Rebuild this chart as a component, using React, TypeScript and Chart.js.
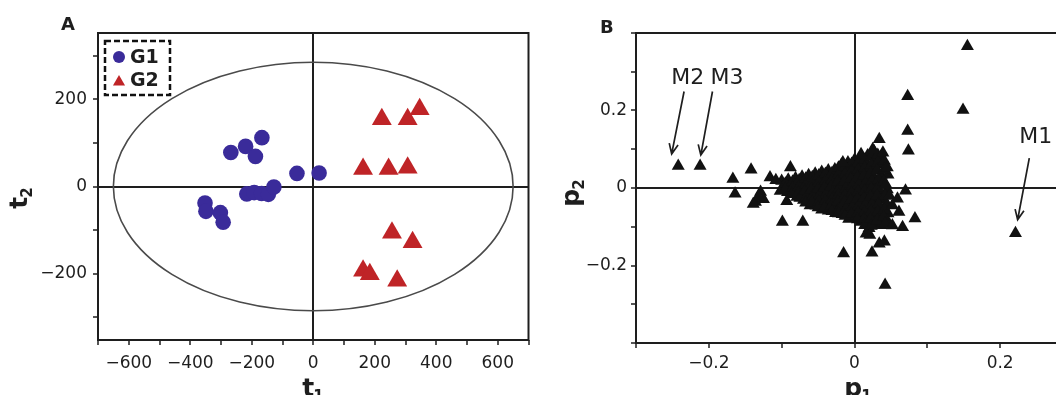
import React, { useEffect, useRef } from 'react';
import { Chart, registerables } from 'chart.js';

Chart.register(...registerables);

type Pt = [number, number];

// ---------------- Panel A : scores (t1 / t2) ----------------
const G1_LABEL = 'G1';
const G2_LABEL = 'G2';
const G1_SCORES: Pt[] = [
  [-268, 78], [-220, 92], [-188, 69], [-167, 112],
  [-53, 30], [19, 31],
  [-216, -17], [-192, -14], [-168, -16], [-146, -18], [-128, -1],
  [-352, -38], [-349, -57], [-302, -60], [-293, -82],
];
const G2_SCORES: Pt[] = [
  [223, 154], [307, 154], [346, 177],
  [162, 40], [245, 40], [307, 43],
  [256, -106], [323, -128],
  [162, -193], [184, -201], [273, -216],
];
const A_X_LIMITS: Pt = [-700, 700];
const A_Y_LIMITS: Pt = [-352, 352];
const A_X_TICKS = [-700, -600, -500, -400, -300, -200, -100, 0, 100, 200, 300, 400, 500, 600, 700];
const A_Y_TICKS = [-300, -200, -100, 0, 100, 200, 300];
const A_X_LABELED = [-600, -400, -200, 0, 200, 400, 600];
const A_Y_LABELED = [-200, 0, 200];
const HOTELLING_SEMI_AXES: Pt = [650, 285];

// ---------------- Panel B : loadings (p1 / p2) ----------------
const LOADINGS_OUTLIERS: Pt[] = [
  [0.155, 0.366], [0.149, 0.201], [0.073, 0.237], [0.073, 0.147], [0.074, 0.096],
  [0.221, -0.117],
  [-0.242, 0.057], [-0.212, 0.057],
  [-0.167, 0.023], [-0.164, -0.015], [-0.142, 0.047],
  [-0.136, -0.036], [-0.129, -0.010], [-0.125, -0.029], [-0.132, -0.023], [-0.139, -0.041],
  [-0.116, 0.027], [-0.108, 0.020],
  [-0.099, -0.088], [-0.071, -0.088], [-0.088, 0.053], [-0.093, -0.034],
  [-0.015, -0.169], [0.024, -0.167], [0.034, -0.144], [0.041, -0.139], [0.042, -0.250],
  [0.016, -0.118], [0.021, -0.121],
  [0.034, 0.126], [0.025, 0.100], [0.039, 0.091], [0.009, 0.087], [-0.016, 0.066],
  [0.045, 0.053], [0.043, 0.010], [0.048, -0.020], [0.052, -0.045], [0.059, -0.028],
  [0.070, -0.007], [0.061, -0.062], [0.052, -0.097], [0.066, -0.101], [0.083, -0.079],
];
const LOADINGS_CLUSTER: Pt[] = [
  [-0.100, 0.018], [-0.098, 0.003], [-0.102, -0.008],
  [-0.091, 0.021], [-0.089, 0.006], [-0.092, -0.011],
  [-0.081, 0.025], [-0.080, 0.009], [-0.082, -0.009], [-0.079, -0.023],
  [-0.072, 0.029], [-0.073, 0.013], [-0.071, -0.004], [-0.072, -0.019], [-0.070, -0.031],
  [-0.063, 0.033], [-0.062, 0.017], [-0.064, 0.001], [-0.062, -0.016], [-0.063, -0.033], [-0.061, -0.045],
  [-0.054, 0.037], [-0.055, 0.021], [-0.053, 0.004], [-0.054, -0.012], [-0.055, -0.029], [-0.053, -0.046],
  [-0.045, 0.041], [-0.044, 0.024], [-0.046, 0.007], [-0.045, -0.010], [-0.044, -0.027], [-0.046, -0.043], [-0.045, -0.056],
  [-0.036, 0.045], [-0.037, 0.027], [-0.035, 0.010], [-0.036, -0.008], [-0.037, -0.025], [-0.035, -0.041], [-0.036, -0.059],
  [-0.027, 0.048], [-0.026, 0.031], [-0.028, 0.013], [-0.027, -0.004], [-0.026, -0.021], [-0.028, -0.038], [-0.027, -0.054], [-0.026, -0.065],
  [-0.018, 0.060], [-0.017, 0.041], [-0.019, 0.023], [-0.018, 0.005], [-0.017, -0.014], [-0.019, -0.032], [-0.018, -0.050], [-0.017, -0.068],
  [-0.009, 0.066], [-0.010, 0.047], [-0.008, 0.027], [-0.009, 0.009], [-0.010, -0.010], [-0.008, -0.028], [-0.009, -0.046], [-0.010, -0.064], [-0.008, -0.080],
  [0.000, 0.072], [0.001, 0.053], [-0.001, 0.033], [0.000, 0.015], [0.001, -0.004], [-0.001, -0.022], [0.000, -0.040], [0.001, -0.058], [-0.001, -0.076],
  [0.009, 0.078], [0.010, 0.058], [0.008, 0.038], [0.009, 0.019], [0.010, 0.000], [0.008, -0.018], [0.009, -0.036], [0.010, -0.054], [0.008, -0.072], [0.009, -0.088],
  [0.018, 0.084], [0.017, 0.064], [0.019, 0.044], [0.018, 0.023], [0.017, 0.004], [0.019, -0.016], [0.018, -0.034], [0.017, -0.052], [0.019, -0.070], [0.018, -0.090], [0.020, -0.104],
  [0.027, 0.094], [0.028, 0.072], [0.026, 0.050], [0.027, 0.028], [0.028, 0.008], [0.026, -0.012], [0.027, -0.032], [0.028, -0.050], [0.026, -0.070], [0.027, -0.092],
  [0.036, 0.080], [0.035, 0.060], [0.037, 0.034], [0.036, 0.012], [0.035, -0.010], [0.037, -0.030], [0.036, -0.052], [0.035, -0.074], [0.037, -0.096],
  [0.046, 0.034], [0.045, -0.004], [0.044, -0.040], [0.046, -0.066], [0.045, -0.084],
];
const LOADINGS_CLUSTER_FILL: Pt[] = [
  [-0.095, 0.011], [-0.095, -0.003],
  [-0.085, 0.016], [-0.085, 0.000], [-0.086, -0.016],
  [-0.076, 0.020], [-0.076, 0.004], [-0.077, -0.012], [-0.075, -0.026],
  [-0.067, 0.024], [-0.067, 0.008], [-0.068, -0.008], [-0.066, -0.024], [-0.067, -0.038],
  [-0.058, 0.028], [-0.058, 0.012], [-0.059, -0.004], [-0.057, -0.020], [-0.058, -0.037],
  [-0.049, 0.032], [-0.049, 0.015], [-0.050, -0.002], [-0.048, -0.018], [-0.049, -0.035], [-0.050, -0.050],
  [-0.040, 0.036], [-0.040, 0.018], [-0.041, 0.001], [-0.039, -0.016], [-0.040, -0.033], [-0.041, -0.050],
  [-0.031, 0.038], [-0.031, 0.021], [-0.032, 0.004], [-0.030, -0.013], [-0.031, -0.030], [-0.032, -0.046], [-0.031, -0.060],
  [-0.022, 0.052], [-0.022, 0.035], [-0.023, 0.017], [-0.021, -0.001], [-0.022, -0.018], [-0.023, -0.036], [-0.021, -0.053], [-0.022, -0.066],
  [-0.013, 0.055], [-0.013, 0.036], [-0.014, 0.017], [-0.012, -0.001], [-0.013, -0.019], [-0.014, -0.037], [-0.012, -0.055], [-0.013, -0.072],
  [-0.004, 0.062], [-0.004, 0.043], [-0.005, 0.024], [-0.003, 0.006], [-0.004, -0.013], [-0.005, -0.031], [-0.003, -0.049], [-0.004, -0.067],
  [0.005, 0.066], [0.005, 0.047], [0.004, 0.028], [0.006, 0.009], [0.005, -0.009], [0.004, -0.027], [0.006, -0.045], [0.005, -0.063], [0.004, -0.081],
  [0.014, 0.072], [0.014, 0.052], [0.013, 0.032], [0.015, 0.012], [0.014, -0.007], [0.013, -0.026], [0.015, -0.044], [0.014, -0.062], [0.013, -0.080], [0.014, -0.096],
  [0.023, 0.080], [0.023, 0.060], [0.022, 0.038], [0.024, 0.018], [0.023, -0.002], [0.022, -0.022], [0.024, -0.042], [0.023, -0.060], [0.022, -0.080], [0.023, -0.098],
  [0.032, 0.085], [0.032, 0.066], [0.031, 0.046], [0.033, 0.022], [0.032, 0.000], [0.031, -0.020], [0.033, -0.041], [0.032, -0.062], [0.031, -0.084],
  [0.041, 0.070], [0.041, 0.048], [0.040, 0.016], [0.042, -0.020], [0.041, -0.056], [0.040, -0.075], [0.042, -0.092],
];
const B_X_LIMITS: Pt = [-0.3, 0.3];
const B_Y_LIMITS: Pt = [-0.4, 0.4];
const B_X_TICKS = [-0.3, -0.2, -0.1, 0, 0.1, 0.2, 0.3];
const B_Y_TICKS = [-0.4, -0.3, -0.2, -0.1, 0, 0.1, 0.2, 0.3, 0.4];
const B_X_LABELED = [-0.2, 0, 0.2];
const B_Y_LABELED = [-0.2, 0, 0.2];
const MARKERS = [
  { text: 'M2', at: [-0.229, 0.284] as Pt, from: [-0.234, 0.249] as Pt, to: [-0.251, 0.088] as Pt },
  { text: 'M3', at: [-0.175, 0.284] as Pt, from: [-0.195, 0.249] as Pt, to: [-0.211, 0.085] as Pt },
  { text: 'M1', at: [0.249, 0.130] as Pt, from: [0.240, 0.077] as Pt, to: [0.224, -0.082] as Pt },
];

// ---------------- styling ----------------
const INK = '#1e1e1e';
const FONT = '"DejaVu Sans", "Liberation Sans", sans-serif';
const G1_COLOR = '#3a2b9a';
const G2_COLOR = '#bf2427';
const LOAD_COLOR = '#111111';

const toXY = (pts: Pt[]) => pts.map(([x, y]) => ({ x, y }));
const near = (list: number[], v: number) => list.some((l) => Math.abs(l - v) < 1e-9);
const fmt = (v: number, dec: number) =>
  Math.abs(v) < 1e-9 ? '0' : (v < 0 ? '\u2212' : '') + Math.abs(v).toFixed(dec);

function axis(
  limits: Pt,
  ticks: number[],
  labeled: number[],
  dec: number,
  size: { width?: number; height?: number },
  pad: number
): any {
  return {
    type: 'linear',
    min: limits[0],
    max: limits[1],
    afterBuildTicks: (s: any) => {
      s.ticks = ticks.map((v) => ({ value: v }));
    },
    afterFit: (s: any) => {
      if (size.width !== undefined) s.width = size.width;
      if (size.height !== undefined) s.height = size.height;
    },
    border: { display: false },
    grid: {
      color: (c: any) => (c.tick && Math.abs(c.tick.value) < 1e-9 ? INK : 'rgba(0,0,0,0)'),
      lineWidth: 2,
      drawTicks: true,
      tickLength: 5,
      tickColor: INK,
      tickWidth: 1.5,
    },
    ticks: {
      autoSkip: false,
      maxRotation: 0,
      padding: pad,
      color: INK,
      font: { family: FONT, size: 17 },
      callback: (v: any) => (near(labeled, Number(v)) ? fmt(Number(v), dec) : ''),
    },
  };
}

function drawTri(ctx: CanvasRenderingContext2D, x: number, y: number, r: number) {
  ctx.beginPath();
  for (let i = 0; i < 3; i++) {
    const a = -Math.PI / 2 + (i * 2 * Math.PI) / 3;
    const px = x + Math.cos(a) * r;
    const py = y + Math.sin(a) * r;
    if (i === 0) ctx.moveTo(px, py);
    else ctx.lineTo(px, py);
  }
  ctx.closePath();
  ctx.fill();
}

function drawSubTitle(
  ctx: CanvasRenderingContext2D,
  main: string,
  sub: string,
  x: number,
  y: number,
  rotate: boolean
) {
  ctx.save();
  ctx.translate(x, y);
  if (rotate) ctx.rotate(-Math.PI / 2);
  const mainFont = `bold 25px ${FONT}`;
  const subFont = `bold 15px ${FONT}`;
  ctx.font = mainFont;
  const wm = ctx.measureText(main).width;
  ctx.font = subFont;
  const ws = ctx.measureText(sub).width;
  const start = -(wm + ws - 1) / 2;
  ctx.fillStyle = INK;
  ctx.textAlign = 'left';
  ctx.textBaseline = 'alphabetic';
  ctx.font = mainFont;
  ctx.fillText(main, start, 0);
  ctx.font = subFont;
  ctx.fillText(sub, start + wm - 1, 5);
  ctx.restore();
}

function drawFrame(chart: any) {
  const { ctx, chartArea: a } = chart;
  ctx.save();
  ctx.strokeStyle = INK;
  ctx.lineWidth = 2;
  ctx.strokeRect(a.left, a.top, a.right - a.left, a.bottom - a.top);
  ctx.restore();
}

function drawPanelLetter(chart: any, letter: string, dx: number, dy: number) {
  const { ctx, chartArea: a } = chart;
  ctx.save();
  ctx.fillStyle = INK;
  ctx.font = `bold 18px ${FONT}`;
  ctx.textAlign = 'left';
  ctx.textBaseline = 'alphabetic';
  ctx.fillText(letter, a.left + dx, a.top + dy);
  ctx.restore();
}

const decorA = {
  id: 'decorA',
  beforeDatasetsDraw(chart: any) {
    const { ctx, scales } = chart;
    const xs = scales.x;
    const ys = scales.y;
    const cx = xs.getPixelForValue(0);
    const cy = ys.getPixelForValue(0);
    const rx = xs.getPixelForValue(HOTELLING_SEMI_AXES[0]) - cx;
    const ry = cy - ys.getPixelForValue(HOTELLING_SEMI_AXES[1]);
    ctx.save();
    ctx.strokeStyle = '#4a4a4a';
    ctx.lineWidth = 1.6;
    ctx.beginPath();
    ctx.ellipse(cx, cy, rx, ry, 0, 0, Math.PI * 2);
    ctx.stroke();
    ctx.restore();
  },
  afterDraw(chart: any) {
    const { ctx, chartArea: a } = chart;
    drawFrame(chart);
    const lx = a.left + 7;
    const ly = a.top + 8;
    ctx.save();
    ctx.setLineDash([6, 3]);
    ctx.lineWidth = 2.5;
    ctx.strokeStyle = '#111';
    ctx.strokeRect(lx, ly, 65, 54);
    ctx.setLineDash([]);
    const ds = chart.data.datasets;
    ctx.font = `bold 19px ${FONT}`;
    ctx.textAlign = 'left';
    ctx.textBaseline = 'middle';
    ctx.fillStyle = ds[0].backgroundColor;
    ctx.beginPath();
    ctx.arc(lx + 14, ly + 16, 6, 0, Math.PI * 2);
    ctx.fill();
    ctx.fillStyle = INK;
    ctx.fillText(ds[0].label, lx + 25, ly + 17);
    ctx.fillStyle = ds[1].backgroundColor;
    drawTri(ctx, lx + 14, ly + 41, 7);
    ctx.fillStyle = INK;
    ctx.fillText(ds[1].label, lx + 25, ly + 40);
    ctx.restore();
    drawPanelLetter(chart, 'A', -37, -3);
    drawSubTitle(ctx, 't', '1', a.left + 215, a.bottom + 56, false);
    drawSubTitle(ctx, 't', '2', a.left - 71, a.top + 165, true);
  },
};

const decorB = {
  id: 'decorB',
  afterDraw(chart: any) {
    const { ctx, chartArea: a, scales } = chart;
    drawFrame(chart);
    const xs = scales.x;
    const ys = scales.y;
    ctx.save();
    ctx.strokeStyle = INK;
    ctx.fillStyle = INK;
    ctx.lineWidth = 1.7;
    ctx.font = `22px ${FONT}`;
    ctx.textAlign = 'center';
    ctx.textBaseline = 'middle';
    for (const m of MARKERS) {
      ctx.fillText(m.text, xs.getPixelForValue(m.at[0]), ys.getPixelForValue(m.at[1]));
      const x1 = xs.getPixelForValue(m.from[0]);
      const y1 = ys.getPixelForValue(m.from[1]);
      const x2 = xs.getPixelForValue(m.to[0]);
      const y2 = ys.getPixelForValue(m.to[1]);
      ctx.beginPath();
      ctx.moveTo(x1, y1);
      ctx.lineTo(x2, y2);
      const ang = Math.atan2(y2 - y1, x2 - x1);
      const hl = 11;
      ctx.moveTo(x2 - hl * Math.cos(ang - 0.42), y2 - hl * Math.sin(ang - 0.42));
      ctx.lineTo(x2, y2);
      ctx.lineTo(x2 - hl * Math.cos(ang + 0.42), y2 - hl * Math.sin(ang + 0.42));
      ctx.stroke();
    }
    ctx.restore();
    drawPanelLetter(chart, 'B', -36, 0);
    drawSubTitle(ctx, 'p', '1', a.left + 222, a.bottom + 53, false);
    drawSubTitle(ctx, 'p', '2', a.left - 57, a.top + 160, true);
  },
};

function configA(): any {
  return {
    type: 'scatter',
    data: {
      datasets: [
        {
          label: G1_LABEL,
          data: toXY(G1_SCORES),
          pointStyle: 'circle',
          pointRadius: 7.8,
          backgroundColor: G1_COLOR,
          borderColor: G1_COLOR,
          borderWidth: 0,
        },
        {
          label: G2_LABEL,
          data: toXY(G2_SCORES),
          pointStyle: 'triangle',
          pointRadius: 11.5,
          backgroundColor: G2_COLOR,
          borderColor: G2_COLOR,
          borderWidth: 0,
        },
      ],
    },
    options: {
      responsive: false,
      animation: false,
      devicePixelRatio: 1,
      events: [],
      layout: { padding: { left: 0, right: 8, top: 33, bottom: 0 } },
      plugins: { legend: { display: false }, tooltip: { enabled: false }, title: { display: false } },
      scales: {
        x: axis(A_X_LIMITS, A_X_TICKS, A_X_LABELED, 0, { height: 63 }, 8),
        y: axis(A_Y_LIMITS, A_Y_TICKS, A_Y_LABELED, 0, { width: 98 }, 6),
      },
    },
    plugins: [decorA],
  };
}

function configB(): any {
  return {
    type: 'scatter',
    data: {
      datasets: [
        {
          label: 'Loadings',
          data: toXY([...LOADINGS_CLUSTER, ...LOADINGS_CLUSTER_FILL, ...LOADINGS_OUTLIERS]),
          pointStyle: 'triangle',
          pointRadius: 7.5,
          backgroundColor: LOAD_COLOR,
          borderColor: LOAD_COLOR,
          borderWidth: 0,
        },
      ],
    },
    options: {
      responsive: false,
      animation: false,
      devicePixelRatio: 1,
      events: [],
      layout: { padding: { left: 0, right: 27, top: 33, bottom: 0 } },
      plugins: { legend: { display: false }, tooltip: { enabled: false }, title: { display: false } },
      scales: {
        x: axis(B_X_LIMITS, B_X_TICKS, B_X_LABELED, 1, { height: 60 }, 5),
        y: axis(B_Y_LIMITS, B_Y_TICKS, B_Y_LABELED, 1, { width: 96 }, 4),
      },
    },
    plugins: [decorB],
  };
}

export default function App() {
  const refA = useRef<HTMLCanvasElement>(null);
  const refB = useRef<HTMLCanvasElement>(null);
  useEffect(() => {
    const a = new Chart(refA.current as HTMLCanvasElement, configA());
    const b = new Chart(refB.current as HTMLCanvasElement, configB());
    return () => {
      a.destroy();
      b.destroy();
    };
  }, []);
  return (
    <div
      style={{
        position: 'relative',
        width: 1064,
        height: 403,
        margin: -8,
        overflow: 'hidden',
        background: '#ffffff',
      }}
    >
      <canvas ref={refA} width={540} height={403} style={{ position: 'absolute', left: 0, top: 0 }} />
      <canvas ref={refB} width={560} height={403} style={{ position: 'absolute', left: 540, top: 0 }} />
    </div>
  );
}
